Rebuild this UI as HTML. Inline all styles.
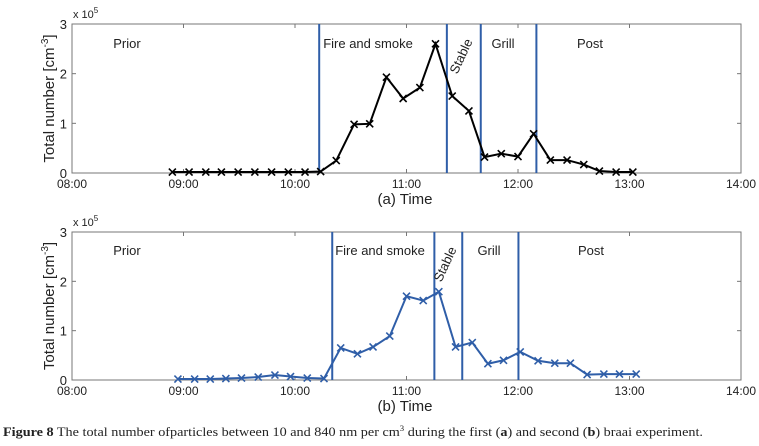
<!DOCTYPE html>
<html><head><meta charset="utf-8"><style>
html,body{margin:0;padding:0;background:#fff;}
svg{display:block;font-family:"Liberation Sans",sans-serif;}
</style></head><body>
<svg id="fig" width="759" height="446" viewBox="0 0 759 446" xmlns="http://www.w3.org/2000/svg"></svg>
<script>
// Panel (a) data — hours of day
const timesA = [8.90,9.05,9.20,9.34,9.49,9.64,9.79,9.94,10.09,10.23,10.37,10.53,10.67,10.82,10.97,11.12,11.26,11.41,11.56,11.70,11.85,12.00,12.14,12.29,12.44,12.59,12.73,12.88,13.03];
const valuesA = [0.02,0.02,0.02,0.02,0.02,0.02,0.02,0.02,0.02,0.03,0.25,0.98,0.99,1.93,1.50,1.72,2.60,1.55,1.25,0.32,0.39,0.33,0.79,0.26,0.26,0.17,0.04,0.02,0.02];
const phaseLinesA = [10.217,11.362,11.666,12.165];
// Panel (b) data
const timesB = [8.95,9.10,9.24,9.38,9.52,9.67,9.82,9.96,10.11,10.26,10.41,10.56,10.70,10.85,11.00,11.15,11.29,11.44,11.59,11.73,11.87,12.02,12.18,12.33,12.47,12.62,12.77,12.91,13.06];
const valuesB = [0.02,0.02,0.02,0.03,0.04,0.06,0.10,0.07,0.04,0.03,0.65,0.53,0.67,0.89,1.70,1.61,1.79,0.67,0.76,0.33,0.40,0.57,0.39,0.34,0.34,0.11,0.12,0.12,0.12];
const phaseLinesB = [10.334,11.25,11.5,12.004];
const xTickLabels = ["08:00","09:00","10:00","11:00","12:00","13:00","14:00"];
const yTickLabels = ["0","1","2","3"];

const NS="http://www.w3.org/2000/svg";
const svg=document.getElementById('fig');
function mk(tag,attrs,parent){const e=document.createElementNS(NS,tag);for(const k in attrs)e.setAttribute(k,attrs[k]);(parent||svg).appendChild(e);return e;}

function panel(id,top,bottom,times,values,lines,color,labels,letter){
  const L=72,R=741;
  const xs=t=>L+(t-8)/6*(R-L);
  const ys=v=>bottom-v/3*(bottom-top);
  const g=mk('g',{});
  
  
  const frame=mk('rect',{x:L,y:top,width:R-L,height:bottom-top,fill:'none',stroke:'#777','stroke-width':1},g);
  
  
  xTickLabels.forEach((lab,i)=>{
    const x=xs(8+i);
    mk('line',{x1:x,y1:bottom,x2:x,y2:bottom-4,stroke:'#777'},g);
    mk('line',{x1:x,y1:top,x2:x,y2:top+4,stroke:'#777'},g);
    const t=mk('text',{x:x,y:bottom+15,'text-anchor':'middle','font-size':12,fill:'#222'},g);
    t.textContent=lab;
    
    
  });
  yTickLabels.forEach((lab,i)=>{
    const y=ys(+lab);
    mk('line',{x1:L,y1:y,x2:L+4,y2:y,stroke:'#777'},g);
    mk('line',{x1:R,y1:y,x2:R-4,y2:y,stroke:'#777'},g);
    const t=mk('text',{x:L-5,y:y+5,'text-anchor':'end','font-size':13,fill:'#222'},g);
    t.textContent=lab;
    
    
  });
  const ex=mk('text',{x:73,y:top-6,'font-size':11,fill:'#222'},g);
  ex.innerHTML='x 10<tspan font-size="8" dy="-5">5</tspan>';
  
  
  const cy=(top+bottom)/2;
  const yt=mk('text',{x:0,y:0,'font-size':15,'text-anchor':'middle',fill:'#222',transform:`translate(54,${cy}) rotate(-90)`},g);
  yt.innerHTML='Total number [cm<tspan font-size="10" dy="-6">-3</tspan><tspan dy="6">]</tspan>';
  
  
  const xt=mk('text',{x:405,y:bottom+31,'text-anchor':'middle','font-size':15,fill:'#222'},g);
  xt.textContent='('+letter+')   Time';
  
  
  lines.forEach(h=>{
    const l=mk('line',{x1:xs(h),y1:top,x2:xs(h),y2:bottom,stroke:'#2f5ea8','stroke-width':2},g);
    
    
  });
  labels.forEach(o=>{
    const t=mk('text',{x:o.x,y:o.y,'text-anchor':'middle','font-size':13,fill:'#222'},g);
    if(o.r) t.setAttribute('transform',`rotate(-65 ${o.x} ${o.y})`);
    t.textContent=o.t;
    
    
  });
  const pts=times.map((t,i)=>xs(t)+','+ys(values[i])).join(' ');
  const pl=mk('polyline',{points:pts,fill:'none',stroke:color,'stroke-width':2},g);
  
  
  times.forEach((t,i)=>{
    const x=xs(t),y=ys(values[i]),d=3.5;
    const m=mk('path',{d:`M${x-d},${y-d}L${x+d},${y+d}M${x-d},${y+d}L${x+d},${y-d}`,stroke:color,'stroke-width':1.6},g);
    
    
  });
}
panel('a',24,173,timesA,valuesA,phaseLinesA,'#000',[
  {t:'Prior',x:127,y:48},{t:'Fire and smoke',x:368,y:48},{t:'Stable',x:465,y:58,r:1},{t:'Grill',x:503,y:48},{t:'Post',x:590,y:48}],'a');
panel('b',232,380,timesB,valuesB,phaseLinesB,'#2f5ea8',[
  {t:'Prior',x:127,y:255},{t:'Fire and smoke',x:380,y:255},{t:'Stable',x:449,y:266,r:1},{t:'Grill',x:489,y:255},{t:'Post',x:591,y:255}],'b');
const cap=mk('text',{x:3,y:436,'font-size':13,fill:'#222','font-family':'"Liberation Serif",serif',textLength:700,lengthAdjust:'spacingAndGlyphs'});
cap.innerHTML='<tspan font-weight="bold">Figure 8</tspan>  The total number ofparticles between 10 and 840 nm per cm<tspan font-size="8" dy="-5">3</tspan><tspan dy="5"> during the first (</tspan><tspan font-weight="bold">a</tspan>) and second (<tspan font-weight="bold">b</tspan>) braai experiment.';


</script>
</body></html>
